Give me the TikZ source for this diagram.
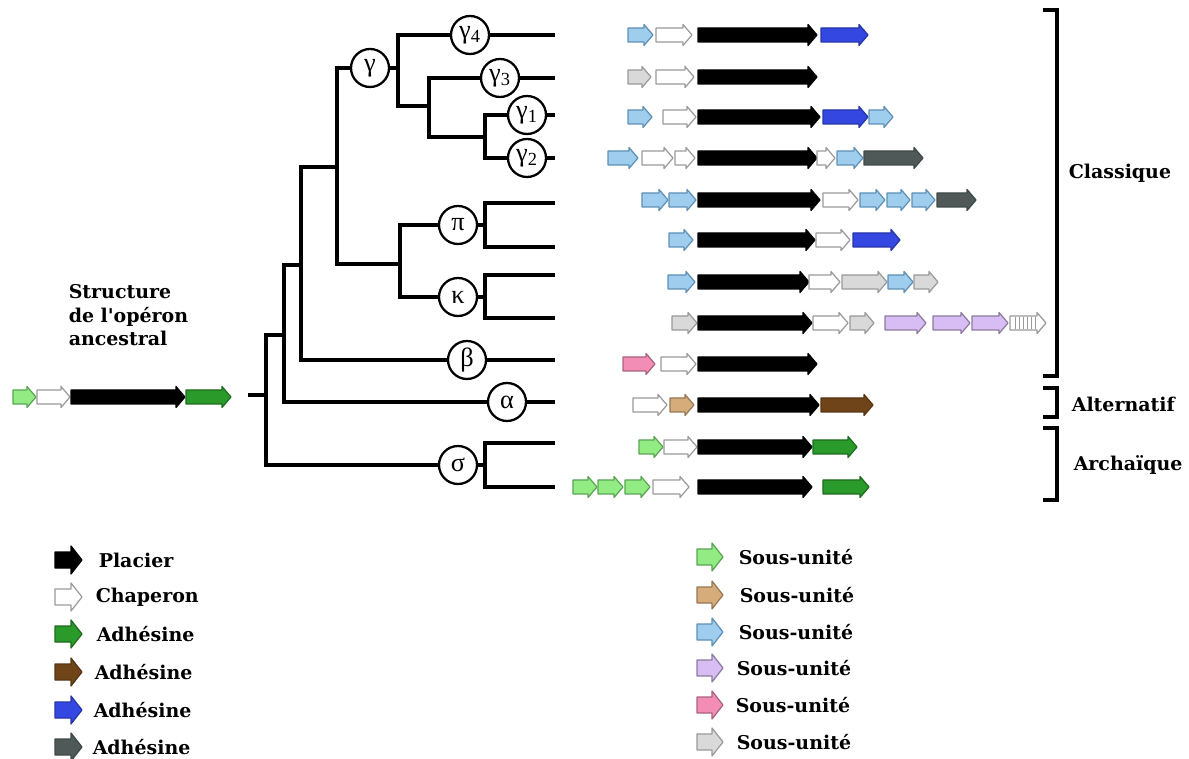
\documentclass[tikz,border=0pt]{standalone}
\usepackage{fontspec}
\setmainfont{DejaVu Serif}
\newfontfamily\aposfont{DejaVu Serif}[Ligatures=ResetAll]
\newfontfamily\grk{Liberation Serif}
\definecolor{cblue}{HTML}{9FCDEE}
\definecolor{cbluel}{HTML}{5E90B6}
\definecolor{cgrey}{HTML}{D9D9D9}
\definecolor{cgreyl}{HTML}{9A9A9A}
\definecolor{cdark}{HTML}{4F5A58}
\definecolor{cadb}{HTML}{3447E0}
\definecolor{cgreen}{HTML}{2A9A2A}
\definecolor{clgreen}{HTML}{93EC83}
\definecolor{clgreenl}{HTML}{58A452}
\definecolor{ctan}{HTML}{D6AC7A}
\definecolor{cbrown}{HTML}{6E4418}
\definecolor{cpink}{HTML}{F28DB5}
\definecolor{clilac}{HTML}{D7BDF3}

\newcommand{\gene}[4]{\draw[gene,#4] (#1,{#3-7}) -- ({#2-9},{#3-7}) -- ({#2-9},{#3-10.5}) -- (#2,#3) -- ({#2-9},{#3+10.5}) -- ({#2-9},{#3+7}) -- (#1,{#3+7}) -- cycle;}
\newcommand{\keygene}[4]{\draw[gene,#4] (#1,{#3-8}) -- ({#2-11},{#3-8}) -- ({#2-11},{#3-14}) -- (#2,#3) -- ({#2-11},{#3+14}) -- ({#2-11},{#3+8}) -- (#1,{#3+8}) -- cycle;}

\begin{document}
\begin{tikzpicture}[x = 0.02cm, y = -0.02cm, line width = 2pt,
                    clade/.style = {circle, draw, fill = white, line width = 1.3pt, minimum size = 0.76cm, inner sep = 0pt, font = \grk\fontsize{15}{15}\selectfont},
                    lbl/.style = {inner sep = 0pt, font = \bfseries\fontsize{10.8}{13.3}\selectfont},
                    gene/.style = {line width = 0.7pt, line join = round},
                    plac/.style = {draw = black, fill = black},
                    chap/.style = {draw = cgreyl, fill = white},
                    subblue/.style = {draw = cbluel, fill = cblue},
                    subgrey/.style = {draw = cgreyl, fill = cgrey},
                    subgreen/.style = {draw = clgreenl, fill = clgreen},
                    subtan/.style = {draw = ctan!70!black, fill = ctan},
                    subpink/.style = {draw = cpink!70!black, fill = cpink},
                    sublilac/.style = {draw = clilac!65!black, fill = clilac},
                    adhblue/.style = {draw = cadb!75!black, fill = cadb},
                    adhgrey/.style = {draw = cdark!80!black, fill = cdark},
                    adhgreen/.style = {draw = cgreen!70!black, fill = cgreen},
                    adhbrown/.style = {draw = cbrown!80!black, fill = cbrown}]
  \useasboundingbox (0,0) rectangle (1189,759);

  \node [clade] (gamma) at (370,68) {γ};
  \node [clade] (g4) at (470,35) {γ\textsubscript{4}};
  \node [clade] (g3) at (500,78) {γ\textsubscript{3}};
  \node [clade] (g1) at (527,115) {γ\textsubscript{1}};
  \node [clade] (g2) at (527,158) {γ\textsubscript{2}};
  \node [clade] (pi) at (458,225) {π};
  \node [clade] (kappa) at (458,297) {κ};
  \node [clade] (beta) at (467,360) {β};
  \node [clade] (alpha) at (507,402) {α};
  \node [clade] (sigma) at (458,465) {σ};

  \coordinate (r0) at (248,395);
  \coordinate (b0) at (266,395);
  \coordinate (n1) at (284,335);
  \coordinate (n2) at (301,265);
  \coordinate (n3) at (337,167);
  \coordinate (n5) at (400,264);
  \coordinate (n6) at (398,68);
  \coordinate (n7) at (429,106);
  \coordinate (n8) at (485,137);
  \coordinate (n9) at (485,225);
  \coordinate (n10) at (485,297);
  \coordinate (n11) at (485,465);
  \coordinate (l1) at (555,35);
  \coordinate (l2) at (555,78);
  \coordinate (l3) at (555,115);
  \coordinate (l4) at (555,158);
  \coordinate (l5) at (555,203);
  \coordinate (l6) at (555,247);
  \coordinate (l7) at (555,275);
  \coordinate (l8) at (555,318);
  \coordinate (l9) at (555,360);
  \coordinate (l10) at (555,402);
  \coordinate (l11) at (555,443);
  \coordinate (l12) at (555,487);

  \draw (r0) -- (b0);
  \draw (sigma) -| (b0) |- (n1);
  \draw (alpha) -| (n1) |- (n2);
  \draw (beta) -| (n2) |- (n3);
  \draw (gamma) -| (n3) |- (n5);
  \draw (pi) -| (n5) |- (kappa);
  \draw (gamma) -- (n6);
  \draw (g4) -| (n6) |- (n7);
  \draw (g3) -| (n7) |- (n8);
  \draw (g1) -| (n8) |- (g2);
  \draw (pi) -- (n9);
  \draw (kappa) -- (n10);
  \draw (sigma) -- (n11);
  \draw (l5) -| (n9) |- (l6);
  \draw (l7) -| (n10) |- (l8);
  \draw (l11) -| (n11) |- (l12);
  \draw (g4) -- (l1);
  \draw (g3) -- (l2);
  \draw (g1) -- (l3);
  \draw (g2) -- (l4);
  \draw (beta) -- (l9);
  \draw (alpha) -- (l10);

  \gene{628}{653}{35}{subblue}
  \gene{656}{692}{35}{chap}
  \gene{698}{817}{35}{plac}
  \gene{821}{868}{35}{adhblue}

  \gene{628}{651}{77}{subgrey}
  \gene{656}{694}{77}{chap}
  \gene{698}{817}{77}{plac}

  \gene{628}{652}{117}{subblue}
  \gene{663}{696}{117}{chap}
  \gene{698}{820}{117}{plac}
  \gene{823}{868}{117}{adhblue}
  \gene{869}{893}{117}{subblue}

  \gene{608}{638}{158}{subblue}
  \gene{642}{673}{158}{chap}
  \gene{675}{695}{158}{chap}
  \gene{698}{817}{158}{plac}
  \gene{817}{835}{158}{chap}
  \gene{837}{863}{158}{subblue}
  \gene{864}{923}{158}{adhgrey}

  \gene{642}{668}{200}{subblue}
  \gene{669}{696}{200}{subblue}
  \gene{698}{820}{200}{plac}
  \gene{823}{858}{200}{chap}
  \gene{860}{885}{200}{subblue}
  \gene{887}{910}{200}{subblue}
  \gene{912}{935}{200}{subblue}
  \gene{937}{976}{200}{adhgrey}

  \gene{669}{693}{240}{subblue}
  \gene{698}{815}{240}{plac}
  \gene{816}{850}{240}{chap}
  \gene{853}{900}{240}{adhblue}

  \gene{668}{695}{282}{subblue}
  \gene{698}{809}{282}{plac}
  \gene{809}{840}{282}{chap}
  \gene{842}{887}{282}{subgrey}
  \gene{888}{913}{282}{subblue}
  \gene{914}{938}{282}{subgrey}

  \gene{672}{697}{323}{subgrey}
  \gene{698}{812}{323}{plac}
  \gene{813}{848}{323}{chap}
  \gene{850}{874}{323}{subgrey}
  \gene{885}{926}{323}{sublilac}
  \gene{933}{970}{323}{sublilac}
  \gene{972}{1008}{323}{sublilac}
  \gene{1010}{1046}{323}{chap}
  \foreach \x in {1015,1019,...,1035}
    \draw[line width = 0.5pt, cgreyl] (\x,317) -- (\x,329);

  \gene{623}{655}{364}{subpink}
  \gene{661}{696}{364}{chap}
  \gene{698}{817}{364}{plac}

  \gene{633}{667}{405}{chap}
  \gene{670}{694}{405}{subtan}
  \gene{698}{819}{405}{plac}
  \gene{821}{873}{405}{adhbrown}

  \gene{639}{663}{447}{subgreen}
  \gene{664}{697}{447}{chap}
  \gene{698}{812}{447}{plac}
  \gene{813}{857}{447}{adhgreen}

  \gene{573}{597}{487}{subgreen}
  \gene{598}{623}{487}{subgreen}
  \gene{625}{650}{487}{subgreen}
  \gene{653}{689}{487}{chap}
  \gene{698}{812}{487}{plac}
  \gene{823}{869}{487}{adhgreen}

  \gene{13}{36}{397}{subgreen}
  \gene{37}{70}{397}{chap}
  \gene{71}{185}{397}{plac}
  \gene{186}{231}{397}{adhgreen}
  \node [lbl, anchor = north west, align = left] (anc) at (67,283) {Structure\\de l{\aposfont '}opéron\\ancestral};

  \draw[line width = 1.8pt] (1043,10) -- (1057,10) -- (1057,376) -- (1043,376);
  \draw[line width = 1.8pt] (1043,388) -- (1057,388) -- (1057,417) -- (1043,417);
  \draw[line width = 1.8pt] (1043,428) -- (1057,428) -- (1057,500) -- (1043,500);
  \node [lbl, anchor = west] (cla) at (1067,173) {Classique};
  \node [lbl, anchor = west] (alt) at (1070,404) {Alternatif};
  \node [lbl, anchor = west] (arc) at (1072,465) {Archaïque};

  \keygene{55}{82}{560}{plac}
  \keygene{55}{82}{597}{chap}
  \keygene{55}{82}{634}{adhgreen}
  \keygene{55}{82}{672}{adhbrown}
  \keygene{55}{82}{710}{adhblue}
  \keygene{55}{82}{747}{adhgrey}
  \node [lbl, anchor = west] (k1) at (97,560) {Placier};
  \node [lbl, anchor = west] (k2) at (94,597) {Chaperon};
  \node [lbl, anchor = west] (k3) at (95,634) {Adhésine};
  \node [lbl, anchor = west] (k4) at (93,672) {Adhésine};
  \node [lbl, anchor = west] (k5) at (92,710) {Adhésine};
  \node [lbl, anchor = west] (k6) at (91,747) {Adhésine};

  \keygene{697}{723}{557}{subgreen}
  \keygene{697}{723}{595}{subtan}
  \keygene{697}{723}{632}{subblue}
  \keygene{697}{723}{668}{sublilac}
  \keygene{697}{723}{705}{subpink}
  \keygene{697}{723}{742}{subgrey}
  \node [lbl, anchor = west] (s1) at (737,557) {Sous-unité};
  \node [lbl, anchor = west] (s2) at (738,595) {Sous-unité};
  \node [lbl, anchor = west] (s3) at (737,632) {Sous-unité};
  \node [lbl, anchor = west] (s4) at (735,668) {Sous-unité};
  \node [lbl, anchor = west] (s5) at (734,705) {Sous-unité};
  \node [lbl, anchor = west] (s6) at (735,742) {Sous-unité};
\end{tikzpicture}
\end{document}
